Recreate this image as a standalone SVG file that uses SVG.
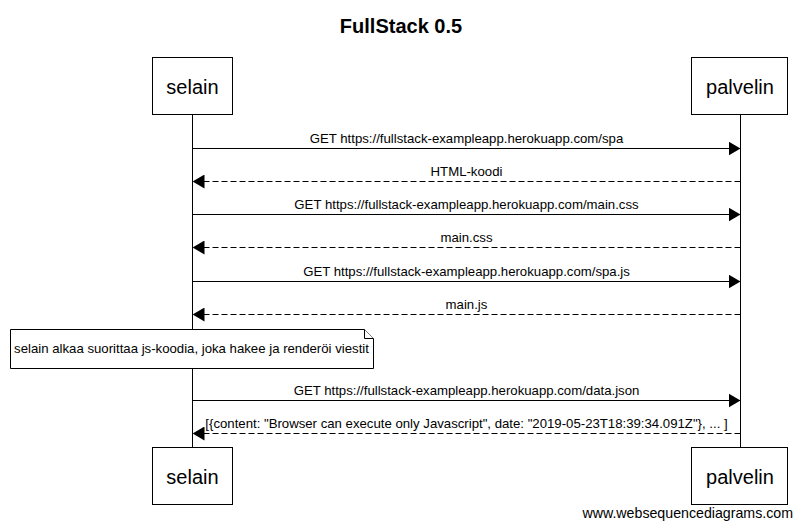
<svg xmlns="http://www.w3.org/2000/svg" width="802" height="528" viewBox="0 0 802 528">
<style>
.box{fill:#fff;stroke:#000;stroke-width:1}
.actor{font-family:"Liberation Sans",Arial,sans-serif;font-size:20px;text-anchor:middle}
.lbl{font-family:"Liberation Sans",Arial,sans-serif;font-size:13.2px;text-anchor:middle}
.msg{stroke:#000;stroke-width:1;fill:none}
.ret{stroke:#000;stroke-width:1;fill:none;stroke-dasharray:6,3}
.life{stroke:#000;stroke-width:1}
</style>
<defs>
<marker id="ah" markerWidth="12" markerHeight="14" refX="12" refY="7" orient="auto" markerUnits="userSpaceOnUse">
<path d="M0,0 L12,7 L0,14 Z" fill="#000"/>
</marker>
</defs>
<rect width="802" height="528" fill="#fff"/>
<text x="401" y="33" font-family="Liberation Sans,Arial,sans-serif" font-size="20" font-weight="bold" text-anchor="middle">FullStack 0.5</text>
<g id="lifelines">
<line class="life" x1="192.5" y1="114" x2="192.5" y2="447"/>
<line class="life" x1="740.5" y1="114" x2="740.5" y2="447"/>
</g>
<g id="selain-top"><rect class="box" x="152.5" y="57.5" width="80" height="57"/><text class="actor" x="192.5" y="94">selain</text></g>
<g id="palvelin-top"><rect class="box" x="691.5" y="57.5" width="96" height="57"/><text class="actor" x="740" y="94">palvelin</text></g>
<g id="selain-bottom"><rect class="box" x="152.5" y="447.5" width="80" height="57"/><text class="actor" x="192.5" y="484">selain</text></g>
<g id="palvelin-bottom"><rect class="box" x="691.5" y="447.5" width="96" height="57"/><text class="actor" x="740" y="484">palvelin</text></g>
<g id="connectors">
<line class="msg" x1="192.5" y1="148.5" x2="740.5" y2="148.5" marker-end="url(#ah)"/>
<text class="lbl" x="466.5" y="143">GET https://fullstack-exampleapp.herokuapp.com/spa</text>
<line class="ret" x1="740.5" y1="181.5" x2="192.5" y2="181.5" marker-end="url(#ah)"/>
<text class="lbl" x="466.5" y="176">HTML-koodi</text>
<line class="msg" x1="192.5" y1="214.5" x2="740.5" y2="214.5" marker-end="url(#ah)"/>
<text class="lbl" x="466.5" y="209">GET https://fullstack-exampleapp.herokuapp.com/main.css</text>
<line class="ret" x1="740.5" y1="247.5" x2="192.5" y2="247.5" marker-end="url(#ah)"/>
<text class="lbl" x="466.5" y="242">main.css</text>
<line class="msg" x1="192.5" y1="281.5" x2="740.5" y2="281.5" marker-end="url(#ah)"/>
<text class="lbl" x="466.5" y="276">GET https://fullstack-exampleapp.herokuapp.com/spa.js</text>
<line class="ret" x1="740.5" y1="314.5" x2="192.5" y2="314.5" marker-end="url(#ah)"/>
<text class="lbl" x="466.5" y="309">main.js</text>
<line class="msg" x1="192.5" y1="400.5" x2="740.5" y2="400.5" marker-end="url(#ah)"/>
<text class="lbl" x="466.5" y="395">GET https://fullstack-exampleapp.herokuapp.com/data.json</text>
<line class="ret" x1="740.5" y1="433.5" x2="192.5" y2="433.5" marker-end="url(#ah)"/>
<text class="lbl" x="466.5" y="428">[{content: "Browser can execute only Javascript", date: "2019-05-23T18:39:34.091Z"}, ... ]</text>
</g>
<g id="note">
<path class="box" d="M10.5,329.5 H364.5 L373.5,338.5 V368.5 H10.5 Z"/>
<path class="box" d="M364.5,329.5 V338.5 H373.5" fill="none"/>
<text class="lbl" x="191.5" y="353">selain alkaa suorittaa js-koodia, joka hakee ja renderöi viestit</text>
</g>
<text x="793" y="518" font-family="Liberation Sans,Arial,sans-serif" font-size="14.2" text-anchor="end">www.websequencediagrams.com</text>
</svg>
